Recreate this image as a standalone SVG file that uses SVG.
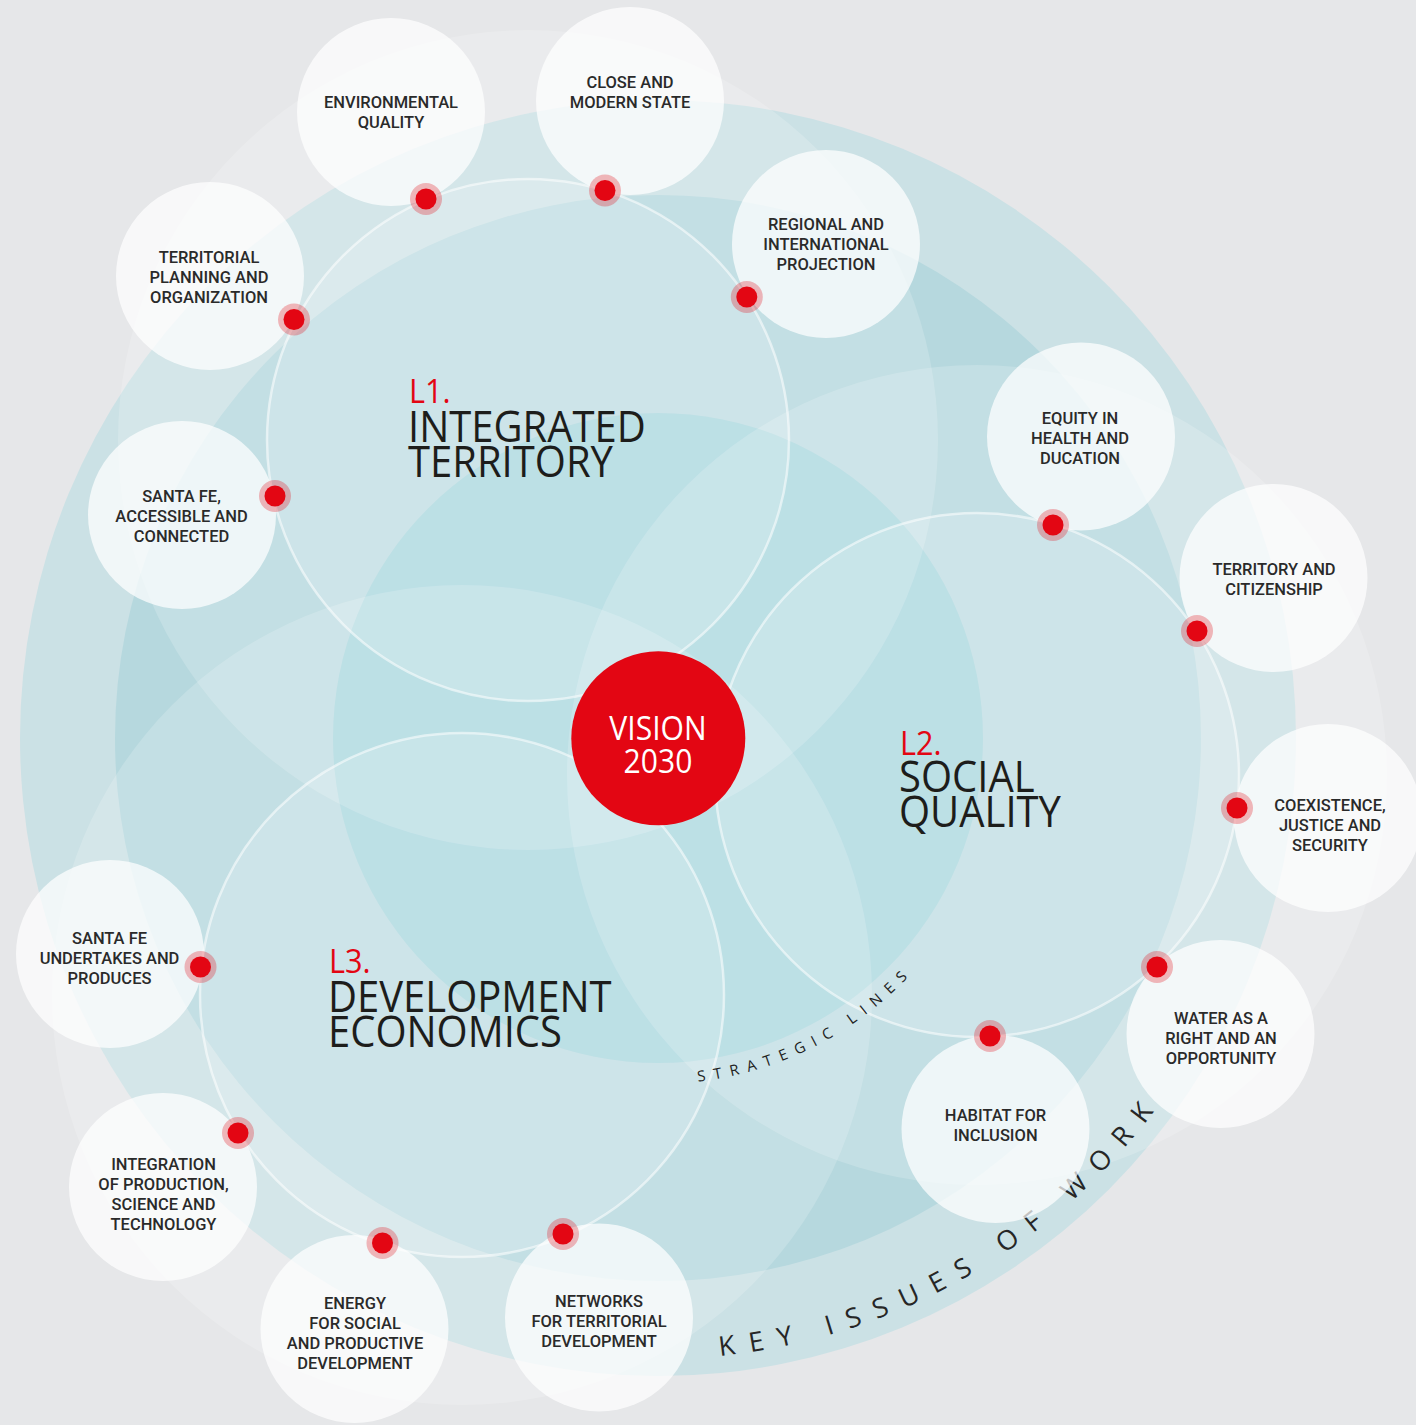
<svg xmlns="http://www.w3.org/2000/svg" xmlns:xlink="http://www.w3.org/1999/xlink" width="1416" height="1425" viewBox="0 0 1416 1425">
<defs>
<style>
.big{fill:#ffffff;fill-opacity:0.18}
.thin{fill:#ffffff;fill-opacity:0.18;stroke:#ffffff;stroke-opacity:0.55;stroke-width:2.5}
.node{fill:#ffffff;fill-opacity:0.72}
.halo{fill:#e30613;fill-opacity:0.28}
.dot{fill:#e30613}
.lbl{font-family:Roboto,"Open Sans",sans-serif;font-size:17px;font-weight:500;fill:#2a2a2a;text-anchor:middle}
.ttl{font-family:"Open Sans","Noto Sans",sans-serif;font-size:43px;fill:#1d1d1b}
.num{font-family:"Open Sans","Noto Sans",sans-serif;font-size:33px;fill:#e30613}
.arc1{font-family:"Open Sans","Noto Sans",sans-serif;font-size:15px;fill:#222222;letter-spacing:8.5px}
.arc2{font-family:"Open Sans","Noto Sans",sans-serif;font-size:27px;fill:#262626;letter-spacing:14.4px}
</style>
<path id="pStrat" d="M 658 1084 A 346 346 0 0 0 983.1 856.3"/>
<path id="pKey" d="M 658 1359 A 621 621 0 0 0 1241.5 950.4"/>
</defs>
<rect x="0" y="0" width="1416" height="1425" fill="#e6e7e9"/>
<g id="background">
<circle cx="658" cy="738" r="638" fill="#cbe1e5"/>
<circle cx="658" cy="738" r="543" fill="#b6d8de"/>
<circle cx="658" cy="738" r="325" fill="#9dd1da"/>
<circle class="big" cx="528" cy="440" r="410"/>
<circle class="big" cx="977" cy="775" r="410"/>
<circle class="big" cx="462" cy="995" r="410"/>
</g>
<g id="connectors">
<circle class="thin" cx="528" cy="440" r="261"/>
<circle class="thin" cx="977" cy="775" r="262"/>
<circle class="thin" cx="462" cy="995" r="262"/>
</g>
<g id="arc-labels">
<text class="arc1"><textPath xlink:href="#pStrat" startOffset="40">STRATEGIC LINES</textPath></text>
<text class="arc2"><textPath xlink:href="#pKey" startOffset="62">KEY</textPath></text>
<text class="arc2"><textPath xlink:href="#pKey" startOffset="172.4">ISSUES</textPath></text>
<text class="arc2"><textPath xlink:href="#pKey" startOffset="367">OF</textPath></text>
<text class="arc2"><textPath xlink:href="#pKey" startOffset="452">WORK</textPath></text>
</g>
<g id="line-l1">
<text class="num" transform="translate(409,0) scale(0.93,1)" x="0" y="403">L1.</text>
<text class="ttl" transform="translate(408,0) scale(0.93,1)"><tspan x="0" y="442">INTEGRATED</tspan><tspan x="0" y="477">TERRITORY</tspan></text>
</g>
<g id="line-l2">
<text class="num" transform="translate(900,0) scale(0.93,1)" x="0" y="755">L2.</text>
<text class="ttl" transform="translate(899,0) scale(0.93,1)"><tspan x="0" y="792">SOCIAL</tspan><tspan x="0" y="827">QUALITY</tspan></text>
</g>
<g id="line-l3">
<text class="num" transform="translate(329,0) scale(0.93,1)" x="0" y="973">L3.</text>
<text class="ttl" transform="translate(328,0) scale(0.93,1)"><tspan x="0" y="1012">DEVELOPMENT</tspan><tspan x="0" y="1047">ECONOMICS</tspan></text>
</g>
<g id="n-env">
<circle class="node" cx="391" cy="112" r="94"/>
<text class="lbl" transform="translate(391,0) scale(0.97,1)"><tspan x="0" y="108">ENVIRONMENTAL</tspan><tspan x="0" y="128">QUALITY</tspan></text>
<circle class="halo" cx="426" cy="199" r="16"/><circle class="dot" cx="426" cy="199" r="10.5"/>
</g>
<g id="n-close">
<circle class="node" cx="630" cy="101" r="94"/>
<text class="lbl" transform="translate(630,0) scale(0.97,1)"><tspan x="0" y="88">CLOSE AND</tspan><tspan x="0" y="108">MODERN STATE</tspan></text>
<circle class="halo" cx="605" cy="190.5" r="16"/><circle class="dot" cx="605" cy="190.5" r="10.5"/>
</g>
<g id="n-regional">
<circle class="node" cx="826" cy="244" r="94"/>
<text class="lbl" transform="translate(826,0) scale(0.97,1)"><tspan x="0" y="230">REGIONAL AND</tspan><tspan x="0" y="250">INTERNATIONAL</tspan><tspan x="0" y="270">PROJECTION</tspan></text>
<circle class="halo" cx="746.8" cy="297" r="16"/><circle class="dot" cx="746.8" cy="297" r="10.5"/>
</g>
<g id="n-territorial">
<circle class="node" cx="210" cy="276" r="94"/>
<text class="lbl" transform="translate(209,0) scale(0.97,1)"><tspan x="0" y="263">TERRITORIAL</tspan><tspan x="0" y="283">PLANNING AND</tspan><tspan x="0" y="303">ORGANIZATION</tspan></text>
<circle class="halo" cx="294" cy="319.5" r="16"/><circle class="dot" cx="294" cy="319.5" r="10.5"/>
</g>
<g id="n-accessible">
<circle class="node" cx="182" cy="515" r="94"/>
<text class="lbl" transform="translate(181.5,0) scale(0.97,1)"><tspan x="0" y="502">SANTA FE,</tspan><tspan x="0" y="522">ACCESSIBLE AND</tspan><tspan x="0" y="542">CONNECTED</tspan></text>
<circle class="halo" cx="275" cy="496" r="16"/><circle class="dot" cx="275" cy="496" r="10.5"/>
</g>
<g id="n-equity">
<circle class="node" cx="1081" cy="436.5" r="94"/>
<text class="lbl" transform="translate(1080,0) scale(0.97,1)"><tspan x="0" y="424">EQUITY IN</tspan><tspan x="0" y="444">HEALTH AND</tspan><tspan x="0" y="464">DUCATION</tspan></text>
<circle class="halo" cx="1053" cy="525" r="16"/><circle class="dot" cx="1053" cy="525" r="10.5"/>
</g>
<g id="n-citizenship">
<circle class="node" cx="1273.5" cy="578" r="94"/>
<text class="lbl" transform="translate(1274,0) scale(0.97,1)"><tspan x="0" y="575">TERRITORY AND</tspan><tspan x="0" y="595">CITIZENSHIP</tspan></text>
<circle class="halo" cx="1197" cy="631" r="16"/><circle class="dot" cx="1197" cy="631" r="10.5"/>
</g>
<g id="n-coexistence">
<circle class="node" cx="1328" cy="818" r="94"/>
<text class="lbl" transform="translate(1330,0) scale(0.97,1)"><tspan x="0" y="811">COEXISTENCE,</tspan><tspan x="0" y="831">JUSTICE AND</tspan><tspan x="0" y="851">SECURITY</tspan></text>
<circle class="halo" cx="1237" cy="808" r="16"/><circle class="dot" cx="1237" cy="808" r="10.5"/>
</g>
<g id="n-water">
<circle class="node" cx="1220.5" cy="1034" r="94"/>
<text class="lbl" transform="translate(1221,0) scale(0.97,1)"><tspan x="0" y="1024">WATER AS A</tspan><tspan x="0" y="1044">RIGHT AND AN</tspan><tspan x="0" y="1064">OPPORTUNITY</tspan></text>
<circle class="halo" cx="1157" cy="967" r="16"/><circle class="dot" cx="1157" cy="967" r="10.5"/>
</g>
<g id="n-habitat">
<circle class="node" cx="995.5" cy="1129" r="94"/>
<text class="lbl" transform="translate(995.5,0) scale(0.97,1)"><tspan x="0" y="1121">HABITAT FOR</tspan><tspan x="0" y="1141">INCLUSION</tspan></text>
<circle class="halo" cx="990" cy="1036" r="16"/><circle class="dot" cx="990" cy="1036" r="10.5"/>
</g>
<g id="n-networks">
<circle class="node" cx="599" cy="1317.5" r="94"/>
<text class="lbl" transform="translate(599,0) scale(0.97,1)"><tspan x="0" y="1307">NETWORKS</tspan><tspan x="0" y="1327">FOR TERRITORIAL</tspan><tspan x="0" y="1347">DEVELOPMENT</tspan></text>
<circle class="halo" cx="563" cy="1234" r="16"/><circle class="dot" cx="563" cy="1234" r="10.5"/>
</g>
<g id="n-energy">
<circle class="node" cx="354.5" cy="1329" r="94"/>
<text class="lbl" transform="translate(355,0) scale(0.97,1)"><tspan x="0" y="1309">ENERGY</tspan><tspan x="0" y="1329">FOR SOCIAL</tspan><tspan x="0" y="1349">AND PRODUCTIVE</tspan><tspan x="0" y="1369">DEVELOPMENT</tspan></text>
<circle class="halo" cx="382.5" cy="1243" r="16"/><circle class="dot" cx="382.5" cy="1243" r="10.5"/>
</g>
<g id="n-integration">
<circle class="node" cx="163" cy="1187" r="94"/>
<text class="lbl" transform="translate(163.5,0) scale(0.97,1)"><tspan x="0" y="1170">INTEGRATION</tspan><tspan x="0" y="1190">OF PRODUCTION,</tspan><tspan x="0" y="1210">SCIENCE AND</tspan><tspan x="0" y="1230">TECHNOLOGY</tspan></text>
<circle class="halo" cx="238" cy="1133" r="16"/><circle class="dot" cx="238" cy="1133" r="10.5"/>
</g>
<g id="n-undertakes">
<circle class="node" cx="110" cy="954" r="94"/>
<text class="lbl" transform="translate(109.5,0) scale(0.97,1)"><tspan x="0" y="944.5">SANTA FE</tspan><tspan x="0" y="964.5">UNDERTAKES AND</tspan><tspan x="0" y="984.5">PRODUCES</tspan></text>
<circle class="halo" cx="200.5" cy="967" r="16"/><circle class="dot" cx="200.5" cy="967" r="10.5"/>
</g>
<g id="vision">
<circle cx="658.3" cy="738.3" r="87" fill="#e30613"/>
<text transform="translate(658,0) scale(0.94,1)" font-family="Open Sans, Noto Sans, sans-serif" font-size="32" fill="#ffffff" text-anchor="middle"><tspan x="0" y="740">VISION</tspan><tspan x="0" y="773">2030</tspan></text>
</g>
</svg>
